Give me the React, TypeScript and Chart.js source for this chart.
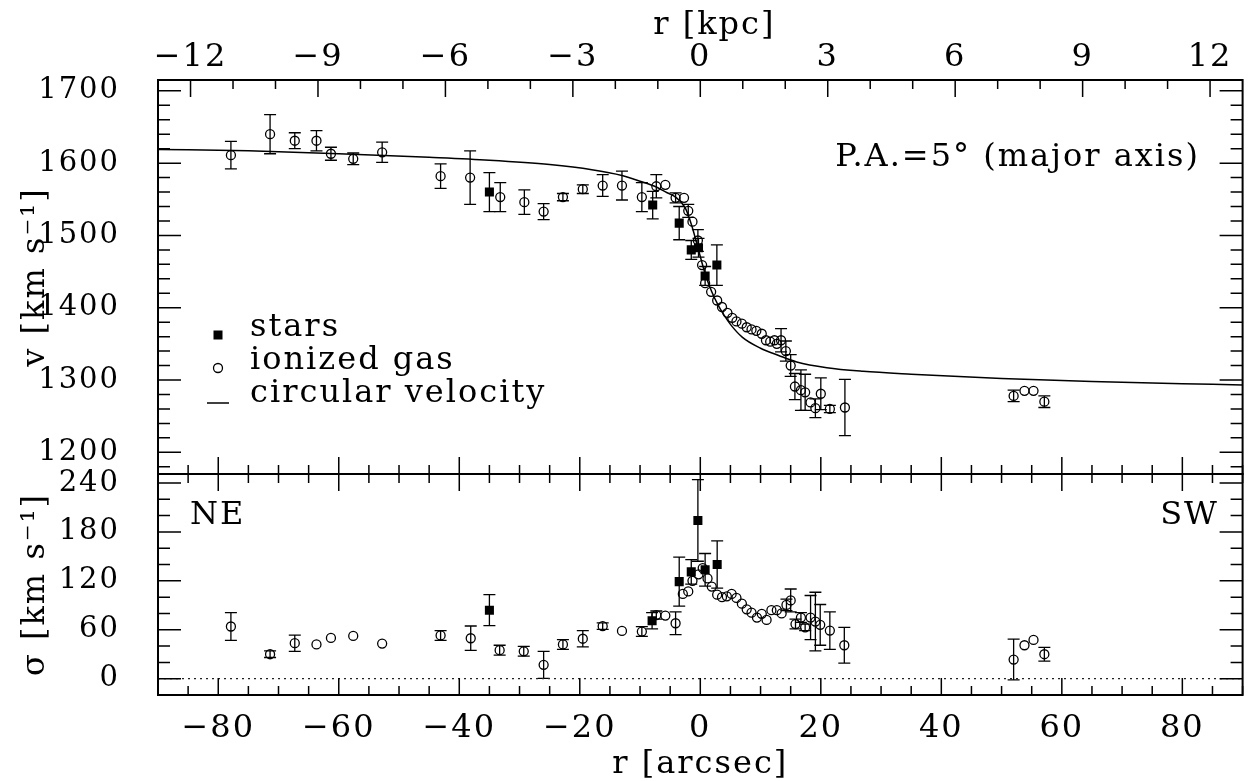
import React, { useEffect, useRef } from 'react';
import { Chart, registerables } from 'chart.js';
Chart.register(...registerables);

// ---------- axis settings ----------
const ARCSEC_PER_KPC = 7.05;
const X_MIN = -90;
const X_MAX = 90;
const V_MIN = 1170;
const V_MAX = 1715;
const S_MIN = -20;
const S_MAX = 251;

const X_TICKS = [-80, -60, -40, -20, 0, 20, 40, 60, 80];
const KPC_TICKS = [-12, -9, -6, -3, 0, 3, 6, 9, 12];
const V_TICKS = [1200, 1300, 1400, 1500, 1600, 1700];
const S_TICKS = [0, 60, 120, 180, 240];

// ---------- velocity panel: ionized gas ----------
const gasVelR = [-77.9, -71.4, -67.3, -63.7, -61.3, -57.6, -52.8, -43.1, -38.2, -33.2, -29.2, -26.0, -22.8, -19.5, -16.2, -13.0, -9.7, -7.3, -5.8, -4.1, -2.7, -2.0, -1.3, -0.4, 0.3, 0.8, 1.8, 2.8, 3.6, 4.5, 5.3, 6.0, 6.9, 7.7, 8.5, 9.3, 10.2, 10.9, 11.6, 12.3, 12.7, 13.4, 14.2, 15.0, 15.7, 16.7, 17.4, 18.3, 19.1, 20.0, 21.5, 24.0, 52.0, 53.8, 55.3, 57.1];
const gasVel = [1611, 1640, 1631, 1631, 1613, 1606, 1615, 1582, 1580, 1553, 1546, 1533, 1553, 1564, 1569, 1569, 1553, 1568, 1570, 1552, 1552, 1534, 1519, 1493, 1459, 1434, 1422, 1410, 1401, 1393, 1386, 1381, 1378, 1373, 1370, 1368, 1364, 1355, 1353, 1355, 1350, 1355, 1340, 1320, 1291, 1286, 1283, 1269, 1261, 1281, 1260, 1262, 1278, 1285, 1285, 1270];
const gasVelErr = [19, 27, 11, 14, 9, 8, 14, 17, 37, 20, 17, 11, 5, 6, 15, 20, 20, 16, 0, 7, 0, 9, 0, 15, 0, 0, 0, 0, 0, 0, 0, 0, 0, 0, 0, 0, 0, 0, 0, 0, 0, 16, 14, 15, 18, 28, 25, 0, 13, 22, 5, 39, 8, 0, 0, 8];

// ---------- velocity panel: stars ----------
const starVelR = [-35.0, -7.9, -3.5, -1.5, -0.3, 0.8, 2.75];
const starVel = [1560, 1542, 1517, 1480, 1483, 1444, 1459];
const starVelErr = [27, 19, 23, 13, 13, 13, 28];

// ---------- velocity panel: circular velocity ----------
const circR = [-90, -75, -60, -45, -35, -25, -18, -13, -10, -7.3, -5.5, -4.1, -2.5, -1.4, -0.3, 0.8, 1.9, 3.0, 4.0, 5.0, 7.0, 10, 13, 16, 21, 27, 35, 50, 65, 80, 90];
const circV = [1619, 1617, 1613, 1608, 1604, 1598, 1591, 1583, 1575, 1567, 1559, 1553, 1538, 1513, 1480, 1447, 1422, 1403, 1389, 1377, 1359, 1344, 1334, 1325, 1317, 1312, 1308, 1302, 1298, 1295, 1293];

// ---------- dispersion panel: ionized gas ----------
const gasSigR = [-77.9, -71.4, -67.3, -63.7, -61.3, -57.6, -52.8, -43.1, -38.1, -33.3, -29.3, -26.0, -22.8, -19.5, -16.2, -13.0, -9.7, -7.3, -5.8, -4.1, -2.9, -2.0, -1.3, -0.3, 0.4, 1.2, 1.9, 2.8, 3.6, 4.4, 5.2, 6.0, 6.9, 7.7, 8.5, 9.4, 10.2, 11.0, 11.8, 12.7, 13.5, 14.3, 15.0, 15.8, 16.7, 17.4, 18.3, 19.1, 19.9, 21.5, 23.9, 52.0, 53.8, 55.3, 57.1];
const gasSig = [64, 30, 43.5, 42, 50, 52.5, 43, 53, 49.6, 35, 33.6, 17, 42, 49, 64.4, 58.6, 57.8, 78, 77.4, 68, 104, 107, 120, 128, 135.6, 123, 113, 103, 100, 101, 104, 99, 92, 85, 81, 75, 79.5, 72, 84, 84, 80, 90.5, 96, 67, 75, 63, 75, 70, 66, 59, 41, 23.5, 41, 47.5, 30];
const gasSigErr = [17, 4, 10, 0, 0, 0, 0, 6, 15, 6, 6, 16.6, 6, 10, 4, 0, 6, 5, 0, 14, 0, 0, 0, 0, 0, 0, 0, 0, 0, 0, 0, 0, 0, 0, 0, 0, 0, 0, 0, 0, 0, 7, 14, 6, 6, 4, 27, 36, 25, 23, 22, 25, 0, 0, 8.5];

// ---------- dispersion panel: stars ----------
const starSigR = [-35.0, -8.0, -3.5, -1.5, -0.4, 0.8, 2.8];
const starSig = [84, 71, 119, 131, 194, 133.5, 140];
const starSigErr = [19, 10, 30, 15, 50, 20, 29];

const FONT_FAMILY = '"DejaVu Serif", "Liberation Serif", serif';
const FONT_SIZE = 32;
const Y_FONT_SIZE = 29;
const SPACING = '2px';

const pts = (xs: number[], ys: number[]) => xs.map((x, i) => ({ x, y: ys[i] }));
const fmt = (v: number) => (v < 0 ? '\u2212' + Math.abs(v) : String(v));

function drawTicks(ctx: CanvasRenderingContext2D, scale: any, horizontal: boolean, fixed: number, dir: number, major: number, minor: number, lenMaj: number, lenMin: number) {
  const k0 = Math.ceil(scale.min / minor - 1e-9);
  const k1 = Math.floor(scale.max / minor + 1e-9);
  ctx.beginPath();
  for (let k = k0; k <= k1; k++) {
    const v = k * minor;
    const r = v / major;
    const isMajor = Math.abs(r - Math.round(r)) < 1e-6;
    const p = scale.getPixelForValue(v);
    const len = isMajor ? lenMaj : lenMin;
    if (horizontal) {
      ctx.moveTo(p, fixed);
      ctx.lineTo(p, fixed + dir * len);
    } else {
      ctx.moveTo(fixed, p);
      ctx.lineTo(fixed + dir * len, p);
    }
  }
  ctx.stroke();
}

const spacingPlugin = {
  id: 'spacing',
  beforeUpdate(chart: any) { chart.ctx.letterSpacing = SPACING; },
  beforeDraw(chart: any) { chart.ctx.letterSpacing = SPACING; },
};

const errorBarPlugin = {
  id: 'errbars',
  afterDatasetsDraw(chart: any) {
    const ctx = chart.ctx;
    const cap = 6;
    ctx.save();
    ctx.strokeStyle = '#000';
    ctx.lineWidth = 1.3;
    chart.data.datasets.forEach((ds: any, di: number) => {
      if (!ds.errors) return;
      const meta = chart.getDatasetMeta(di);
      const yScale = chart.scales[ds.yAxisID];
      meta.data.forEach((pt: any, i: number) => {
        const e = ds.errors[i];
        if (!e) return;
        const v = ds.data[i].y;
        const y1 = yScale.getPixelForValue(v - e);
        const y2 = yScale.getPixelForValue(v + e);
        ctx.beginPath();
        ctx.moveTo(pt.x, y1);
        ctx.lineTo(pt.x, y2);
        ctx.moveTo(pt.x - cap, y1);
        ctx.lineTo(pt.x + cap, y1);
        ctx.moveTo(pt.x - cap, y2);
        ctx.lineTo(pt.x + cap, y2);
        ctx.stroke();
      });
    });
    ctx.restore();
  },
};

const framePlugin = {
  id: 'frames',
  afterDraw(chart: any) {
    const ctx: CanvasRenderingContext2D = chart.ctx;
    const x = chart.scales.x;
    const x2 = chart.scales.x2;
    const yv = chart.scales.yv;
    const ys = chart.scales.ys;
    const L = chart.chartArea.left;
    const R = chart.chartArea.right;
    ctx.save();
    (ctx as any).letterSpacing = SPACING;

    // zero line (dotted)
    const y0 = ys.getPixelForValue(0);
    ctx.strokeStyle = '#222';
    ctx.lineWidth = 1.2;
    ctx.setLineDash([2, 4]);
    ctx.beginPath();
    ctx.moveTo(L, y0);
    ctx.lineTo(R, y0);
    ctx.stroke();
    ctx.setLineDash([]);

    // frames
    ctx.strokeStyle = '#000';
    ctx.lineWidth = 2;
    ctx.strokeRect(L, yv.top, R - L, yv.bottom - yv.top);
    ctx.strokeRect(L, ys.top, R - L, ys.bottom - ys.top);

    // ticks
    ctx.lineWidth = 1.5;
    drawTicks(ctx, x2, true, yv.top, 1, 3, 1, 17, 9);
    drawTicks(ctx, x, true, yv.bottom, -1, 20, 5, 17, 9);
    drawTicks(ctx, x, true, ys.top, 1, 20, 5, 17, 9);
    drawTicks(ctx, x, true, ys.bottom, -1, 20, 5, 17, 9);
    drawTicks(ctx, yv, false, L, 1, 100, 20, 23, 12);
    drawTicks(ctx, yv, false, R, -1, 100, 20, 23, 12);
    drawTicks(ctx, ys, false, L, 1, 60, 20, 23, 12);
    drawTicks(ctx, ys, false, R, -1, 60, 20, 23, 12);

    // texts
    ctx.fillStyle = '#000';
    ctx.font = `${FONT_SIZE}px ${FONT_FAMILY}`;
    ctx.textBaseline = 'alphabetic';
    ctx.textAlign = 'center';
    const cx = (L + R) / 2;
    ctx.fillText('r [kpc]', cx + 14, 34);
    ctx.fillText('r [arcsec]', cx, 773);

    ctx.save();
    ctx.translate(44, (yv.top + yv.bottom) / 2);
    ctx.rotate(-Math.PI / 2);
    ctx.fillText('v [km s\u207B\u00B9]', 0, 0);
    ctx.restore();
    ctx.save();
    ctx.translate(44, (ys.top + ys.bottom) / 2);
    ctx.rotate(-Math.PI / 2);
    ctx.fillText('\u03C3 [km s\u207B\u00B9]', 0, 0);
    ctx.restore();

    ctx.textAlign = 'right';
    ctx.fillText('P.A.=5\u00B0 (major axis)', 1200, 166);
    ctx.fillText('SW', 1219, 524);
    ctx.textAlign = 'left';
    ctx.fillText('NE', 190, 524);

    // legend
    ctx.fillText('stars', 250, 336);
    ctx.fillText('ionized gas', 250, 369);
    ctx.fillText('circular velocity', 250, 402);
    ctx.fillRect(213.5, 330.5, 9, 9);
    ctx.lineWidth = 1.3;
    ctx.beginPath();
    ctx.arc(218, 368, 4.5, 0, Math.PI * 2);
    ctx.stroke();
    ctx.lineWidth = 1.5;
    ctx.beginPath();
    ctx.moveTo(207, 403);
    ctx.lineTo(229, 403);
    ctx.stroke();
    ctx.restore();
  },
};

const tickFont = { family: FONT_FAMILY, size: FONT_SIZE };
const yTickFont = { family: FONT_FAMILY, size: Y_FONT_SIZE };

export default function App() {
  const ref = useRef<HTMLCanvasElement | null>(null);
  useEffect(() => {
    if (!ref.current) return;
    Chart.defaults.font.family = FONT_FAMILY;
    const common = {
      grid: { display: false, drawTicks: false },
      border: { display: false },
    };
    const chart = new Chart(ref.current, {
      type: 'scatter',
      data: {
        datasets: [
          {
            type: 'line',
            label: 'circular velocity',
            data: pts(circR, circV),
            yAxisID: 'yv',
            xAxisID: 'x',
            borderColor: '#000',
            borderWidth: 1.5,
            pointRadius: 0,
            cubicInterpolationMode: 'monotone',
            fill: false,
          },
          {
            label: 'ionized gas',
            data: pts(gasVelR, gasVel),
            yAxisID: 'yv',
            xAxisID: 'x',
            pointStyle: 'circle',
            pointRadius: 4.5,
            borderColor: '#000',
            backgroundColor: 'rgba(0,0,0,0)',
            pointBorderWidth: 1.3,
            errors: gasVelErr,
          },
          {
            label: 'stars',
            data: pts(starVelR, starVel),
            yAxisID: 'yv',
            xAxisID: 'x',
            pointStyle: 'rect',
            pointRadius: 6.4,
            borderColor: '#000',
            backgroundColor: '#000',
            pointBorderWidth: 0,
            errors: starVelErr,
          },
          {
            label: 'ionized gas sigma',
            data: pts(gasSigR, gasSig),
            yAxisID: 'ys',
            xAxisID: 'x',
            pointStyle: 'circle',
            pointRadius: 4.5,
            borderColor: '#000',
            backgroundColor: 'rgba(0,0,0,0)',
            pointBorderWidth: 1.3,
            errors: gasSigErr,
          },
          {
            label: 'stars sigma',
            data: pts(starSigR, starSig),
            yAxisID: 'ys',
            xAxisID: 'x',
            pointStyle: 'rect',
            pointRadius: 6.4,
            borderColor: '#000',
            backgroundColor: '#000',
            pointBorderWidth: 0,
            errors: starSigErr,
          },
        ] as any,
      },
      options: {
        responsive: false,
        animation: false,
        events: [],
        layout: { padding: { left: 0, right: 2, top: 0, bottom: 0 } },
        plugins: { legend: { display: false }, tooltip: { enabled: false } },
        scales: {
          x: {
            type: 'linear',
            axis: 'x',
            position: 'bottom',
            min: X_MIN,
            max: X_MAX,
            ...common,
            afterBuildTicks: (s: any) => { s.ticks = X_TICKS.map((v) => ({ value: v })); },
            afterFit: (s: any) => { s.height = 86; },
            ticks: { padding: 14, font: tickFont, color: '#000', autoSkip: false, maxRotation: 0, callback: (v: any) => fmt(Number(v)) },
          },
          x2: {
            type: 'linear',
            axis: 'x',
            position: 'top',
            min: X_MIN / ARCSEC_PER_KPC,
            max: X_MAX / ARCSEC_PER_KPC,
            ...common,
            afterBuildTicks: (s: any) => { s.ticks = KPC_TICKS.map((v) => ({ value: v })); },
            afterFit: (s: any) => { s.height = 80; },
            ticks: { padding: 3, font: tickFont, color: '#000', autoSkip: false, maxRotation: 0, callback: (v: any) => fmt(Number(v)) },
          },
          ys: {
            type: 'linear',
            axis: 'y',
            position: 'left',
            stack: 'panels',
            stackWeight: 221,
            min: S_MIN,
            max: S_MAX,
            ...common,
            afterBuildTicks: (s: any) => { s.ticks = S_TICKS.map((v) => ({ value: v })); },
            afterFit: (s: any) => { s.width = 158; },
            ticks: { padding: 38, font: yTickFont, color: '#000', autoSkip: false, callback: (v: any) => fmt(Number(v)) },
          },
          yv: {
            type: 'linear',
            axis: 'y',
            position: 'left',
            stack: 'panels',
            stackWeight: 394,
            min: V_MIN,
            max: V_MAX,
            ...common,
            afterBuildTicks: (s: any) => { s.ticks = V_TICKS.map((v) => ({ value: v })); },
            afterFit: (s: any) => { s.width = 158; },
            ticks: { padding: 38, font: yTickFont, color: '#000', autoSkip: false, callback: (v: any) => fmt(Number(v)) },
          },
        },
      } as any,
      plugins: [spacingPlugin, errorBarPlugin, framePlugin],
    });
    return () => chart.destroy();
  }, []);
  return (
    <div style={{ position: 'absolute', left: 0, top: 0, width: 1249, height: 781, background: '#fff' }}>
      <canvas ref={ref} width={1249} height={781} style={{ display: 'block' }} />
    </div>
  );
}
